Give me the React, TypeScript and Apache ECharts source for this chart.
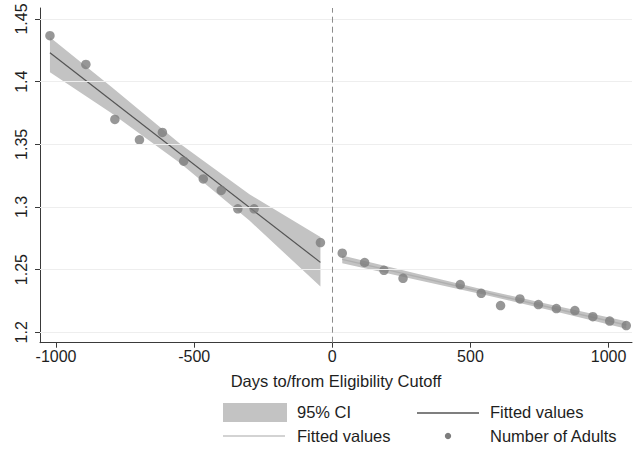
import React, { useEffect, useRef } from "react";
import * as echarts from "echarts";

// ---- data ----
const leftDays = [-1022, -892, -787, -698, -615, -538, -467, -402, -342, -283, -43];
const leftAdults = [1.4367, 1.4138, 1.3699, 1.3536, 1.3595, 1.3366, 1.3224, 1.3132, 1.2985, 1.2985, 1.2716];
const rightDays = [36, 117, 187, 256, 463, 539, 609, 679, 746, 811, 878, 943, 1004, 1064];
const rightAdults = [1.2631, 1.2557, 1.2495, 1.2431, 1.2381, 1.2311, 1.2213, 1.2266, 1.2221, 1.2189, 1.2173, 1.2125, 1.209, 1.2054];

const leftFitDays = [-1022, -43];
const leftFitValues = [1.4231, 1.2558];
const leftBandDays = [-1022, -800, -550, -300, -43];
const leftBandLow = [1.4075, 1.3751, 1.3349, 1.2892, 1.2365];
const leftBandHigh = [1.4355, 1.3959, 1.3503, 1.3102, 1.276];

const rightFitDays = [36, 1064];
const rightFitValues = [1.2582, 1.2058];
const rightBandDays = [36, 300, 550, 800, 1064];
const rightBandLow = [1.2552, 1.2422, 1.23, 1.217, 1.2028];
const rightBandHigh = [1.2612, 1.2472, 1.234, 1.2216, 1.2088];

const xTicks = [-1000, -500, 0, 500, 1000];
const yTicks = [1.2, 1.25, 1.3, 1.35, 1.4, 1.45];
const cutoff = 0;

const FONT = "'Liberation Sans', Arial, sans-serif";
const TEXT = "#1e1e1e";
const BAND = "#c3c3c3";
const DOT = "#7d7d7d";

function bandSeries(days: number[], low: number[], high: number[]) {
  return {
    type: "custom",
    silent: true,
    z: 1,
    data: days.map((d, i) => [d, low[i], high[i]]),
    encode: { x: 0, y: [1, 2] },
    renderItem: (params: any, api: any) => {
      if (params.dataIndexInside !== 0) return null;
      const n = params.dataInsideLength;
      const upper: number[][] = [];
      const lower: number[][] = [];
      for (let i = 0; i < n; i++) {
        upper.push(api.coord([api.value(0, i), api.value(2, i)]));
        lower.push(api.coord([api.value(0, i), api.value(1, i)]));
      }
      return {
        type: "polygon",
        shape: { points: upper.concat(lower.reverse()) },
        style: { fill: BAND, stroke: "none" },
      };
    },
  };
}

export default function App() {
  const ref = useRef<HTMLDivElement>(null);
  useEffect(() => {
    if (!ref.current) return;
    const chart = echarts.init(ref.current, undefined, { renderer: "svg" });
    const option: any = {
      animation: false,
      backgroundColor: "#ffffff",
      textStyle: { fontFamily: FONT },
      grid: { left: 40, right: 3, top: 8, bottom: 108.3, containLabel: false },
      xAxis: {
        type: "value",
        min: -1058,
        max: 1084.7,
        name: "Days to/from Eligibility Cutoff",
        nameLocation: "middle",
        nameGap: 30,
        nameTextStyle: { fontFamily: FONT, fontSize: 16.5, color: TEXT },
        axisLine: { show: true, onZero: false, lineStyle: { color: "#3a3a3a", width: 1 } },
        axisTick: { show: true, length: 5, customValues: xTicks, lineStyle: { color: "#3a3a3a" } },
        axisLabel: {
          customValues: xTicks,
          formatter: (v: number) => String(v),
          fontFamily: FONT,
          fontSize: 16,
          color: TEXT,
          margin: 6,
        },
        splitLine: { show: false },
      },
      yAxis: {
        type: "value",
        min: 1.1917,
        max: 1.4588,
        axisLine: { show: true, onZero: false, lineStyle: { color: "#3a3a3a", width: 1 } },
        axisTick: { show: true, length: 5, customValues: yTicks, lineStyle: { color: "#3a3a3a" } },
        axisLabel: {
          customValues: yTicks,
          formatter: (v: number) => String(v),
          rotate: 90,
          fontFamily: FONT,
          fontSize: 16,
          color: TEXT,
          margin: 11,
        },
        splitLine: { show: false },
      },
      series: [
        {
          type: "line",
          data: [],
          silent: true,
          z: 0,
          markLine: {
            silent: true,
            symbol: "none",
            label: { show: false },
            animation: false,
            data: [
              ...yTicks.map((v) => ({ yAxis: v, lineStyle: { color: "#eeeeee", width: 1, type: "solid" } })),
              { xAxis: cutoff, lineStyle: { color: "#8c8c8c", width: 1, type: [6, 4] } },
            ],
          },
        },
        bandSeries(leftBandDays, leftBandLow, leftBandHigh),
        bandSeries(rightBandDays, rightBandLow, rightBandHigh),
        {
          type: "line",
          z: 2,
          data: leftFitDays.map((d, i) => [d, leftFitValues[i]]),
          showSymbol: false,
          symbol: "none",
          lineStyle: { color: "#545454", width: 1.2 },
        },
        {
          type: "line",
          z: 2,
          data: rightFitDays.map((d, i) => [d, rightFitValues[i]]),
          showSymbol: false,
          symbol: "none",
          lineStyle: { color: "#b0b0b0", width: 1.5 },
        },
        {
          type: "scatter",
          z: 3,
          data: leftDays.map((d, i) => [d, leftAdults[i]]).concat(rightDays.map((d, i) => [d, rightAdults[i]])),
          symbol: "circle",
          symbolSize: 9.5,
          itemStyle: { color: DOT },
        },
      ],
      graphic: [
        { type: "rect", left: 223, top: 403, shape: { width: 64, height: 19 }, style: { fill: BAND } },
        { type: "text", left: 297, top: 403, style: { text: "95% CI", font: `16.5px ${FONT}`, fill: TEXT } },
        { type: "line", shape: { x1: 417, y1: 413, x2: 479, y2: 413 }, style: { stroke: "#545454", lineWidth: 1.5 } },
        { type: "text", left: 490, top: 403, style: { text: "Fitted values", font: `16.5px ${FONT}`, fill: TEXT } },
        { type: "line", shape: { x1: 223, y1: 436, x2: 285, y2: 436 }, style: { stroke: "#c4c4c4", lineWidth: 1.5 } },
        { type: "text", left: 297, top: 427, style: { text: "Fitted values", font: `16.5px ${FONT}`, fill: TEXT } },
        { type: "circle", shape: { cx: 448, cy: 436, r: 3.2 }, style: { fill: DOT } },
        { type: "text", left: 490, top: 427, style: { text: "Number of Adults", font: `16.5px ${FONT}`, fill: TEXT } },
      ],
    };
    chart.setOption(option);
    return () => chart.dispose();
  }, []);
  return <div ref={ref} style={{ position: "fixed", left: 0, top: 0, width: 635, height: 451 }} />;
}
